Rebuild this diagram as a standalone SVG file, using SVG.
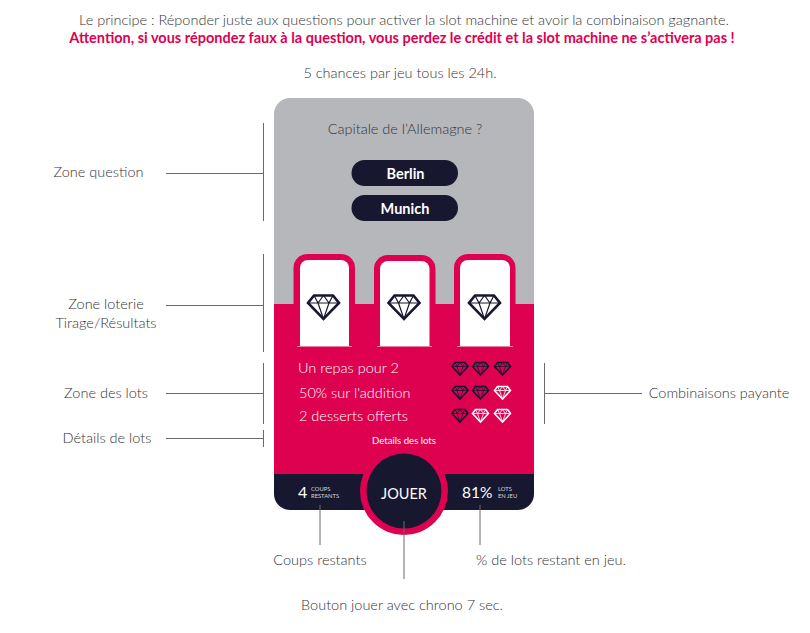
<svg xmlns="http://www.w3.org/2000/svg" width="810" height="633" viewBox="0 0 810 633">
<style>
text{font-family:Lato,"Open Sans",sans-serif;font-weight:300;fill:#333338;font-size:14.5px}
.c{text-anchor:middle}
.b{font-weight:700;fill:#fff}
.w{fill:#fff}
.s{font-size:5.800px;fill:#d8d8dc;font-weight:400}
.l{stroke:#6a6a6a;stroke-width:1;fill:none}
</style>
<defs>
<g id="dia"><path d="M-9.500-11.500H9.500L15.500-4 0 12-15.500-4Z" fill="none" stroke="currentColor" stroke-width="2.600"/><path d="M-15.500-4H15.500M-9.500-11.500-5.500-4 0 12 5.500-4 9.500-11.500M-5.500-4 0-11.500 5.500-4" fill="none" stroke="currentColor" stroke-width="1.200"/></g>
<g id="sdia"><path d="M-5-6H5L8-2 0 6.500-8-2Z" fill="none" stroke="currentColor" stroke-width="1.600"/><path d="M-8-2H8M-5-6-3-2 0 6.500 3-2 5-6M-3-2 0-6 3-2" fill="none" stroke="currentColor" stroke-width=".8"/></g>
</defs>
<rect width="810" height="633" fill="#fff"/>
<g id="header">
<text class="c" x="404" y="24.500">Le principe : Réponder juste aux questions pour activer la slot machine et avoir la combinaison gagnante.</text>
<text class="c" x="402" y="43" style="font-weight:700;fill:#dd0150">Attention, si vous répondez faux à la question, vous perdez le crédit et la slot machine ne s’activera pas !</text>
<text class="c" x="400" y="78">5 chances par jeu tous les 24h.</text>
</g>
<g id="card">
<path d="M274 304V114a16 16 0 0 1 16-16H518a16 16 0 0 1 16 16V304Z" fill="#b6b7bb"/>
<rect x="274" y="304" width="260" height="171" fill="#dd0150"/>
<path d="M274 474H534V494a16 16 0 0 1-16 16H290a16 16 0 0 1-16-16Z" fill="#181730"/>
</g>
<g id="question">
<text class="c" x="405" y="134">Capitale de l’Allemagne ?</text>
<rect x="351.500" y="160" width="106.500" height="26" rx="13" fill="#181730"/>
<text class="c b" x="405.500" y="179">Berlin</text>
<rect x="351.500" y="195" width="106.500" height="26" rx="13" fill="#181730"/>
<text class="c b" x="405" y="214">Munich</text>
</g>
<g id="slot1">
<path d="M293.500 346V268a14 14 0 0 1 14-14H341a14 14 0 0 1 14 14V346Z" fill="#dd0150"/>
<path d="M300 346V268a8 8 0 0 1 8-8H341a8 8 0 0 1 8 8V346Z" fill="#fff"/>
<path d="M297 346.500H352" stroke="#f0a0b8" stroke-width=".8"/>
<use href="#dia" x="323.500" y="307" color="#181730"/>
</g>
<g id="slot2">
<path d="M374 346V269a14 14 0 0 1 14-14H421.500a14 14 0 0 1 14 14V346Z" fill="#dd0150"/>
<path d="M380 346V269a8 8 0 0 1 8-8H421.500a8 8 0 0 1 8 8V346Z" fill="#fff"/>
<path d="M377 346.500H432" stroke="#f0a0b8" stroke-width=".8"/>
<use href="#dia" x="404" y="307" color="#181730"/>
</g>
<g id="slot3">
<path d="M454 346V268a14 14 0 0 1 14-14H501.500a14 14 0 0 1 14 14V346Z" fill="#dd0150"/>
<path d="M460 346V268a8 8 0 0 1 8-8H502a8 8 0 0 1 8 8V346Z" fill="#fff"/>
<path d="M457 346.500H513" stroke="#f0a0b8" stroke-width=".8"/>
<use href="#dia" x="484.500" y="307" color="#181730"/>
</g>
<g id="lots">
<text class="w" x="298" y="373">Un repas pour 2</text>
<text class="w" x="299" y="398">50% sur l'addition</text>
<text class="w" x="299" y="421">2 desserts offerts</text>
<use href="#sdia" x="460" y="368.500" color="#181730"/><use href="#sdia" x="480.500" y="368.500" color="#181730"/><use href="#sdia" x="502.500" y="368.500" color="#181730"/>
<use href="#sdia" x="460" y="392.500" color="#181730"/><use href="#sdia" x="480.500" y="392.500" color="#181730"/><use href="#sdia" x="502.500" y="392.500" color="#fff"/>
<use href="#sdia" x="460" y="415.500" color="#181730"/><use href="#sdia" x="480.500" y="415.500" color="#fff"/><use href="#sdia" x="502.500" y="415.500" color="#fff"/>
<text class="c w" x="404" y="444" style="font-size:9.600px;font-weight:400">Details des lots</text>
</g>
<g id="counters">
<text class="w" x="298" y="498" style="font-size:16px;font-weight:400">4</text>
<text class="s" x="311" y="491">COUPS</text>
<text class="s" x="311" y="498">RESTANTS</text>
<text class="w" x="462" y="498" style="font-size:15.500px;font-weight:400">81%</text>
<text class="s" x="498" y="491">LOTS</text>
<text class="s" x="498" y="498">EN JEU</text>
</g>
<g id="jouer">
<circle cx="404" cy="491" r="44" fill="#dd0150"/>
<circle cx="404" cy="491" r="37.500" fill="#181730"/>
<text class="c w" x="404" y="499" style="font-weight:400">JOUER</text>
</g>
<g id="connectors">
<path class="l" d="M263.500 123V221M166 173.500H263.500M263.500 254V352M166 305.500H263.500M263.500 363V424M166 393.500H263.500M263.500 430V447M166 438.500H263.500M544.500 363V424M544.500 393.500H642"/>
<path class="l" d="M320 505V545M404 521V579M480 505V545"/>
</g>
<g id="labels">
<text class="c" x="98.500" y="177">Zone question</text>
<text class="c" x="106" y="309">Zone loterie</text>
<text class="c" x="106" y="328">Tirage/Résultats</text>
<text class="c" x="106" y="398">Zone des lots</text>
<text class="c" x="107" y="443">Détails de lots</text>
<text class="c" x="719" y="398">Combinaisons payante</text>
<text class="c" x="320" y="565">Coups restants</text>
<text class="c" x="551" y="565">% de lots restant en jeu.</text>
<text class="c" x="402" y="610">Bouton jouer avec chrono 7 sec.</text>
</g>
</svg>
